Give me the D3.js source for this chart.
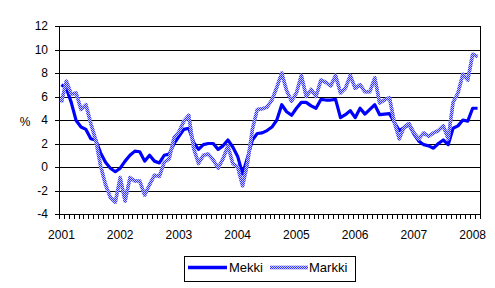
<!DOCTYPE html>
<html>
<head>
<meta charset="utf-8">
<script src="https://cdnjs.cloudflare.com/ajax/libs/d3/7.8.5/d3.min.js"></script>
<style>
  body { margin: 0; background: #fff; }
  text { font-family: "Liberation Sans", Arial, sans-serif; fill: #000; }
</style>
</head>
<body>
<div id="chart"></div>
<script>
// years on the axis, monthly data Jan 2001 - Feb 2008
var years = [2001, 2002, 2003, 2004, 2005, 2006, 2007, 2008];
var yTicks = [-4, -2, 0, 2, 4, 6, 8, 10, 12];

var mekki = [
  7.0, 6.7, 5.5, 3.95, 3.4, 3.2, 2.4, 2.3, 1.2, 0.4, -0.1, -0.4,
  -0.1, 0.5, 1.0, 1.35, 1.3, 0.5, 1.0, 0.5, 0.35, 1.0, 1.1, 2.0,
  2.6, 3.2, 3.3, 2.1, 1.5, 1.9, 2.0, 2.0, 1.5, 1.8, 2.3, 1.7,
  0.9, -0.6, 0.8, 2.3, 2.85, 2.9, 3.1, 3.4, 4.0, 5.3, 4.7, 4.4,
  5.0, 5.5, 5.5, 5.2, 5.0, 5.75, 5.7, 5.7, 5.75, 4.2, 4.45, 4.8,
  4.2, 5.0, 4.5, 4.9, 5.3, 4.45, 4.5, 4.55, 3.8, 3.1, 3.35, 3.6,
  2.8, 2.2, 1.9, 1.8, 1.6, 2.0, 2.3, 1.9, 3.3, 3.5, 4.0, 3.9,
  5.0, 5.0
];

var markki = [
  5.5, 7.3, 6.2, 6.3, 4.9, 5.3, 3.7, 2.3, 0.1, -1.5, -2.6, -3.0,
  -0.9, -2.9, -0.9, -1.2, -1.2, -2.4, -1.5, -0.7, -0.8, 0.4, 0.7, 2.5,
  3.0, 3.9, 4.4, 1.6, 0.3, 1.0, 1.1, 0.6, -0.1, 0.7, 1.8, 0.3,
  0.0, -1.6, 0.3, 3.2, 4.9, 4.95, 5.1, 5.7, 6.8, 8.0, 6.5, 5.6,
  6.3, 7.8, 6.0, 6.6, 6.0, 7.4, 7.2, 6.9, 7.8, 6.3, 6.7, 7.8,
  6.7, 7.0, 6.4, 6.4, 7.6, 5.45, 5.7, 5.9, 3.8, 2.4, 3.4, 3.7,
  2.9, 2.4, 2.9, 2.6, 2.9, 3.1, 3.5, 2.4, 5.5, 6.3, 7.9, 7.4,
  9.6, 9.4
];

// month categories
var months = [];
years.forEach(function (y) {
  for (var m = 1; m <= 12; m++) {
    if (months.length < mekki.length) months.push(y + "-" + m);
  }
});

var svgWidth = 495, svgHeight = 288;
var margin = { top: 26, left: 59, right: 15, bottom: 74 };
var width = svgWidth - margin.left - margin.right;
var height = svgHeight - margin.top - margin.bottom;

var svg = d3.select("#chart")
  .append("svg")
  .attr("width", svgWidth)
  .attr("height", svgHeight);

// checker pattern for the Markki line
var pat = svg.append("defs").append("pattern")
  .attr("id", "chk")
  .attr("patternUnits", "userSpaceOnUse")
  .attr("width", 2)
  .attr("height", 2);
pat.append("rect").attr("width", 2).attr("height", 2)
  .attr("fill", "#ffffff").attr("shape-rendering", "crispEdges");
pat.append("rect").attr("x", 0).attr("y", 0).attr("width", 1).attr("height", 1)
  .attr("fill", "#0000ff").attr("shape-rendering", "crispEdges");
pat.append("rect").attr("x", 1).attr("y", 1).attr("width", 1).attr("height", 1)
  .attr("fill", "#0000ff").attr("shape-rendering", "crispEdges");

var chartGroup = svg.append("g")
  .attr("transform", `translate(${margin.left}, ${margin.top})`);

var xScale = d3.scaleBand()
  .domain(months)
  .range([0, width])
  .padding(0);

var yScale = d3.scaleLinear()
  .domain([-4, 12])
  .range([height, 0]);

// gridlines
chartGroup.append("g")
  .selectAll("line")
  .data(yTicks)
  .enter()
  .append("line")
  .attr("x1", -4)
  .attr("x2", width)
  .attr("y1", d => Math.round(yScale(d)) + 0.5)
  .attr("y2", d => Math.round(yScale(d)) + 0.5)
  .attr("stroke", "#000")
  .attr("stroke-width", 1);

// y labels
chartGroup.append("g")
  .selectAll("text")
  .data(yTicks)
  .enter()
  .append("text")
  .attr("x", -11)
  .attr("y", d => yScale(d))
  .attr("dy", "0.36em")
  .attr("text-anchor", "end")
  .attr("font-size", "12px")
  .text(d => d);

// left and right border
chartGroup.append("line")
  .attr("x1", 0.5).attr("x2", 0.5)
  .attr("y1", 0).attr("y2", height + 5)
  .attr("stroke", "#000");
chartGroup.append("line")
  .attr("x1", Math.round(width) + 0.5).attr("x2", Math.round(width) + 0.5)
  .attr("y1", 0).attr("y2", height + 5)
  .attr("stroke", "#000");

// month ticks on x axis
var tickPos = months.map(m => xScale(m)).concat([width]);
chartGroup.append("g")
  .selectAll("line")
  .data(tickPos)
  .enter()
  .append("line")
  .attr("x1", d => Math.round(d) + 0.5)
  .attr("x2", d => Math.round(d) + 0.5)
  .attr("y1", height)
  .attr("y2", height + 5)
  .attr("stroke", "#000");

// year labels
chartGroup.append("g")
  .selectAll("text")
  .data(years)
  .enter()
  .append("text")
  .attr("x", d => xScale(d + "-1") + xScale.bandwidth() / 2)
  .attr("y", height + 25)
  .attr("text-anchor", "middle")
  .attr("font-size", "12px")
  .text(d => d);

// % label
svg.append("text")
  .attr("x", 25)
  .attr("y", 126)
  .attr("text-anchor", "middle")
  .attr("font-size", "12px")
  .text("%");

var line = d3.line()
  .x((d, i) => xScale(months[i]) + xScale.bandwidth() / 2)
  .y(d => yScale(d));

chartGroup.append("path")
  .datum(mekki)
  .attr("d", line)
  .attr("fill", "none")
  .attr("stroke", "#0000ff")
  .attr("stroke-width", 3.2)
  .attr("stroke-linejoin", "round");

// Markki: light base with checker on top
chartGroup.append("path")
  .datum(markki)
  .attr("d", line)
  .attr("fill", "none")
  .attr("stroke", "#8080ff")
  .attr("stroke-width", 3.5)
  .attr("stroke-linejoin", "round");

chartGroup.append("path")
  .datum(markki)
  .attr("d", line)
  .attr("fill", "none")
  .attr("stroke", "url(#chk)")
  .attr("stroke-width", 3.5)
  .attr("stroke-linejoin", "round")
  .attr("opacity", 0.6);

// legend
var legend = svg.append("g").attr("transform", "translate(184, 256)");
legend.append("rect")
  .attr("x", 0.5).attr("y", 0.5)
  .attr("width", 171).attr("height", 25)
  .attr("fill", "#fff")
  .attr("stroke", "#000");
legend.append("line")
  .attr("x1", 4).attr("x2", 43)
  .attr("y1", 11.5).attr("y2", 11.5)
  .attr("stroke", "#0000ff")
  .attr("stroke-width", 3.5);
legend.append("text")
  .attr("x", 45).attr("y", 16)
  .attr("font-size", "13px")
  .text("Mekki");
legend.append("line")
  .attr("x1", 86).attr("x2", 124)
  .attr("y1", 11.5).attr("y2", 11.5)
  .attr("stroke", "#8080ff")
  .attr("stroke-width", 3.5);
legend.append("line")
  .attr("x1", 86).attr("x2", 124)
  .attr("y1", 11.5).attr("y2", 11.5)
  .attr("stroke", "url(#chk)")
  .attr("stroke-width", 3.5)
  .attr("opacity", 0.6);
legend.append("text")
  .attr("x", 125).attr("y", 16)
  .attr("font-size", "13px")
  .text("Markki");
</script>
</body>
</html>
